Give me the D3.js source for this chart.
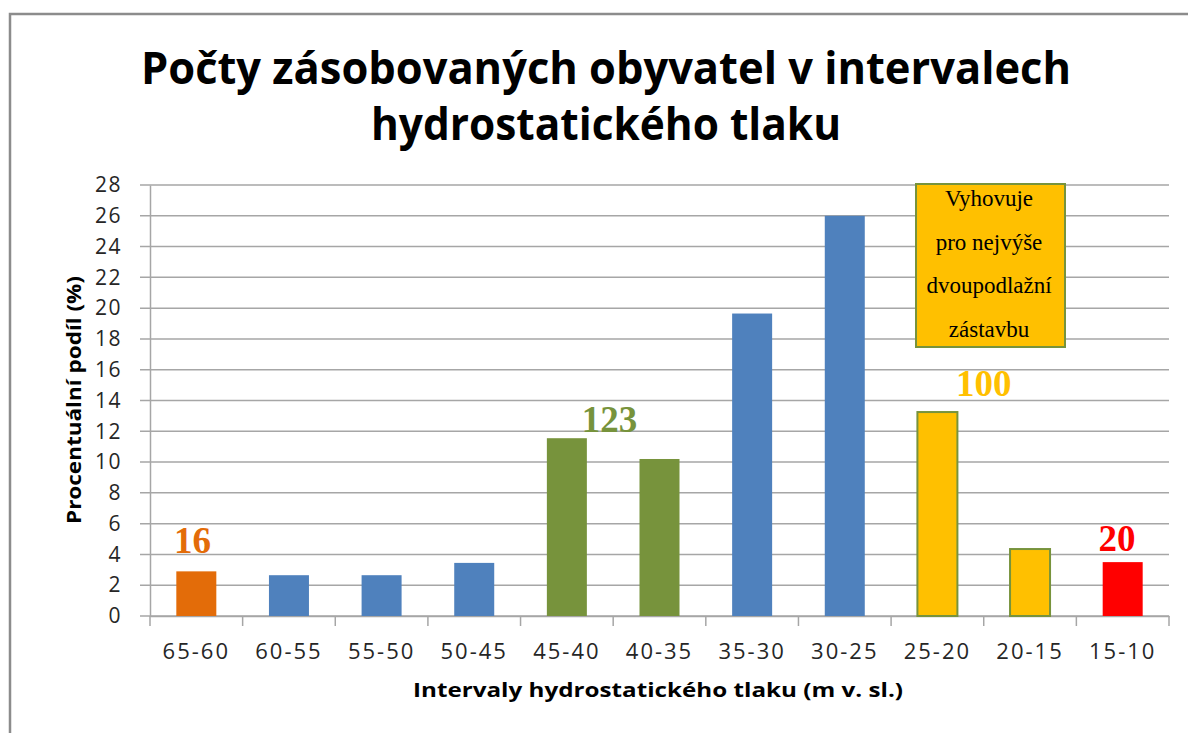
<!DOCTYPE html>
<html>
<head>
<meta charset="utf-8">
<script src="https://cdn.jsdelivr.net/npm/d3@7"></script>
<style>
  body { margin: 0; background: #fff; }
  svg { display: block; }
</style>
</head>
<body>
<svg id="chart"></svg>
<script>
const categories = ['65-60', '60-55', '55-50', '50-45', '45-40', '40-35', '35-30', '30-25', '25-20', '20-15', '15-10']
const values = [2.9, 2.65, 2.65, 3.45, 11.55, 10.2, 19.65, 26.0, 13.25, 4.35, 3.5]
const groups = ['a', 'b', 'b', 'b', 'c', 'c', 'b', 'b', 'd', 'd', 'e']
const yTicks = d3.range(0, 29, 2)
// count labels: text, category it sits over, shift in bands, level (in % units) of its baseline
const notes = [
  { text: '16', at: 0, shift: -0.04, level: 4.1, group: 'a' },
  { text: '123', at: 4, shift: 0.46, level: 11.95, group: 'c' },
  { text: '100', at: 8, shift: 0.5, level: 14.3, group: 'd' },
  { text: '20', at: 10, shift: -0.06, level: 4.2, group: 'e' }
]
const boxLines = ['Vyhovuje', 'pro nejvýše', 'dvoupodlažní', 'zástavbu']

const fills = { a: '#E36C09', b: '#4F81BD', c: '#77933C', d: '#FFC000', e: '#FF0000' }
const labelColors = { a: '#E36C09', c: '#77933C', d: '#FFC000', e: '#FF0000' }

const W = 1188, H = 733
const svg = d3.select('#chart').attr('width', W).attr('height', H)

// outer frame
svg.append('path')
  .attr('d', 'M10,' + H + 'V14H' + W)
  .attr('fill', 'none').attr('stroke', '#8c8c8c').attr('stroke-width', 2.5)

const m = { left: 150, right: 1169, top: 185, bottom: 616 }

const x = d3.scaleBand().domain(categories).range([m.left, m.right]).paddingInner(0).paddingOuter(0)
const y = d3.scaleLinear().domain([0, 28]).range([m.bottom, m.top])

// title
const title = svg.append('text').attr('text-anchor', 'middle')
  .attr('font-family', 'Open Sans').attr('font-weight', 'bold').attr('font-size', 45).attr('fill', '#000')
title.append('tspan').attr('x', 606).attr('y', 84).attr('textLength', 930).attr('lengthAdjust', 'spacingAndGlyphs')
  .text('Počty zásobovaných obyvatel v intervalech')
title.append('tspan').attr('x', 606).attr('y', 140).attr('textLength', 470).attr('lengthAdjust', 'spacingAndGlyphs')
  .text('hydrostatického tlaku')

// grid
svg.append('g').selectAll('line').data(yTicks).join('line')
  .attr('x1', m.left - 10).attr('x2', m.right)
  .attr('y1', d => y(d)).attr('y2', d => y(d))
  .attr('stroke', '#a6a6a6').attr('stroke-width', 1.5)

// y axis
const yAxis = svg.append('g').attr('transform', 'translate(' + m.left + ',0)')
  .call(d3.axisLeft(y).tickValues(yTicks).tickSize(0).tickPadding(28))
yAxis.select('.domain').attr('stroke', '#a6a6a6').attr('stroke-width', 1.5)
yAxis.selectAll('text').attr('font-family', 'Open Sans').attr('font-size', 21)
  .attr('fill', '#262626').attr('letter-spacing', 1.5)

// x axis
const xAxis = svg.append('g').attr('transform', 'translate(0,' + m.bottom + ')')
  .call(d3.axisBottom(x).tickSize(0).tickPadding(27))
xAxis.select('.domain').attr('stroke', '#a6a6a6').attr('stroke-width', 1.5)
xAxis.selectAll('text').attr('font-family', 'Open Sans').attr('font-size', 22)
  .attr('fill', '#262626').attr('letter-spacing', 2)
xAxis.append('g').selectAll('line').data(categories.concat([null])).join('line')
  .attr('x1', (d, i) => m.left + i * x.step()).attr('x2', (d, i) => m.left + i * x.step())
  .attr('y1', 0).attr('y2', 10)
  .attr('stroke', '#a6a6a6').attr('stroke-width', 1.5)

// bars
const bw = 40
svg.append('g').selectAll('rect').data(values).join('rect')
  .attr('x', (d, i) => x(categories[i]) + x.bandwidth() / 2 - bw / 2)
  .attr('width', bw)
  .attr('y', d => y(d))
  .attr('height', d => y(0) - y(d))
  .attr('fill', (d, i) => fills[groups[i]])
  .attr('stroke', (d, i) => groups[i] === 'd' ? '#77933C' : 'none')
  .attr('stroke-width', 2)

// count labels
svg.append('g').selectAll('text').data(notes).join('text')
  .attr('x', d => x(categories[d.at]) + x.bandwidth() / 2 + d.shift * x.step())
  .attr('y', d => y(d.level))
  .attr('text-anchor', 'middle')
  .attr('font-family', 'Liberation Serif').attr('font-weight', 'bold').attr('font-size', 37)
  .attr('fill', d => labelColors[d.group])
  .text(d => d.text)

// note box
const box = svg.append('g')
box.append('rect').attr('x', 916).attr('y', 184).attr('width', 149).attr('height', 163)
  .attr('fill', '#FFC000').attr('stroke', '#77933C').attr('stroke-width', 2)
box.selectAll('text').data(boxLines).join('text')
  .attr('x', 989).attr('y', (d, i) => 206 + i * 43.5)
  .attr('text-anchor', 'middle')
  .attr('font-family', 'Liberation Serif').attr('font-size', 23).attr('fill', '#000')
  .text(d => d)

// axis titles
svg.append('text')
  .attr('transform', 'translate(81,400) rotate(-90)')
  .attr('text-anchor', 'middle')
  .attr('font-family', 'Open Sans').attr('font-weight', 'bold').attr('font-size', 20)
  .attr('textLength', 248).attr('lengthAdjust', 'spacingAndGlyphs')
  .attr('fill', '#000')
  .text('Procentuální podíl (%)')

svg.append('text')
  .attr('x', 658).attr('y', 697)
  .attr('text-anchor', 'middle')
  .attr('font-family', 'Open Sans').attr('font-weight', 'bold').attr('font-size', 20)
  .attr('textLength', 490).attr('lengthAdjust', 'spacingAndGlyphs')
  .attr('fill', '#000')
  .text('Intervaly hydrostatického tlaku (m v. sl.)')
</script>
</body>
</html>
